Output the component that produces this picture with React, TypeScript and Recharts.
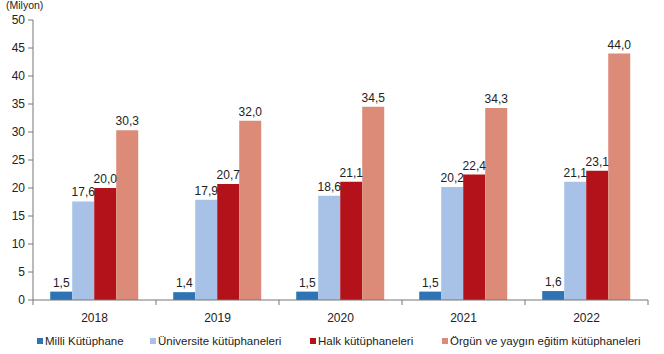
import React from 'react'
import { BarChart, Bar, XAxis, YAxis, Legend, LabelList } from 'recharts'

const years = ['2018', '2019', '2020', '2021', '2022']
const milli = [1.5, 1.4, 1.5, 1.5, 1.6]
const universite = [17.6, 17.9, 18.6, 20.2, 21.1]
const halk = [20.0, 20.7, 21.1, 22.4, 23.1]
const orgun = [30.3, 32.0, 34.5, 34.3, 44.0]
const yTicks = [0, 5, 10, 15, 20, 25, 30, 35, 40, 45, 50]

const series = [
  { key: 'milli', name: 'Milli Kütüphane', color: '#2e74b5' },
  { key: 'universite', name: 'Üniversite kütüphaneleri', color: '#a7c2e6' },
  { key: 'halk', name: 'Halk kütüphaneleri', color: '#b3121b' },
  { key: 'orgun', name: 'Örgün ve yaygın eğitim kütüphaneleri', color: '#dc8b78' },
]

const data = years.map((year, i) => ({
  year,
  milli: milli[i],
  universite: universite[i],
  halk: halk[i],
  orgun: orgun[i],
}))

const font = '"Liberation Sans", Arial, sans-serif'
const fmt = (v: number) => v.toFixed(1).replace('.', ',')

const XTick = (props: any) => {
  const { x, y, payload, index, width } = props
  const half = width / years.length / 2
  const axisY = y - 12
  return (
    <g>
      <line x1={x - half} y1={axisY} x2={x - half} y2={axisY + 5} stroke="#777" />
      {index === years.length - 1 && (
        <line x1={x + half} y1={axisY} x2={x + half} y2={axisY + 5} stroke="#777" />
      )}
      <text x={x} y={y + 1} dy="0.71em" textAnchor="middle" fontSize={12} fill="#222" fontFamily={font}>
        {payload.value}
      </text>
    </g>
  )
}

const legendX = [37, 150, 310, 442]

const renderLegend = () => (
  <div style={{ position: 'relative', height: 20, width: 664, fontFamily: font, fontSize: 11.5, color: '#222' }}>
    {series.map((s, i) => (
      <div key={s.key} style={{ position: 'absolute', left: legendX[i], top: 3, display: 'flex', alignItems: 'center', whiteSpace: 'nowrap' }}>
        <span style={{ width: 6, height: 6, background: s.color, display: 'inline-block', marginRight: 2 }} />
        <span>{s.name}</span>
      </div>
    ))}
  </div>
)

const App: React.FC = () => {
  return (
    <div style={{ position: 'absolute', left: 0, top: 0, width: 664, height: 354, background: '#fff' }}>
      <div style={{ position: 'absolute', left: 6, top: 0, lineHeight: '11px', fontFamily: font, fontSize: 10.5, color: '#222' }}>
        (Milyon)
      </div>
      <BarChart width={664} height={354} data={data}
        margin={{ top: 20, right: 16, left: 0, bottom: 2 }}
        barCategoryGap="14%" barGap={0}>
        <XAxis dataKey="year" tickLine={false} tickSize={0} tickMargin={12} height={32}
          axisLine={{ stroke: '#777' }} tick={<XTick />} interval={0} />
        <YAxis domain={[0, 50]} ticks={yTicks} width={33} tickSize={5} tickMargin={3}
          axisLine={{ stroke: '#777' }} tickLine={{ stroke: '#777' }}
          tick={{ fontSize: 12, fill: '#222', fontFamily: font }} />
        <Legend verticalAlign="bottom" height={20} content={renderLegend}
          wrapperStyle={{ left: 0, width: 664 }} />
        {series.map((s) => (
          <Bar key={s.key} dataKey={s.key} name={s.name} fill={s.color} isAnimationActive={false}>
            <LabelList dataKey={s.key} position="top" offset={5} formatter={(v: any) => fmt(Number(v))}
              style={{ fontSize: 12, fill: '#222', fontFamily: font }} />
          </Bar>
        ))}
      </BarChart>
    </div>
  )
}

export default App
